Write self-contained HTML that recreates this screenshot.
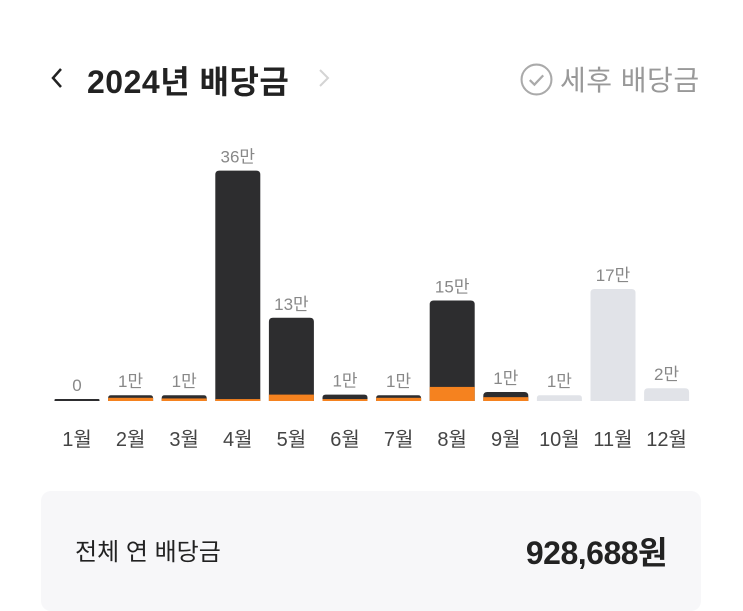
<!DOCTYPE html>
<html><head><meta charset="utf-8"><style>
body{margin:0;width:743px;height:592px;background:#fff;overflow:hidden;font-family:"Liberation Sans","Noto Sans CJK KR",sans-serif;position:relative}
.a{position:absolute}
</style></head><body>
<svg class="a" style="left:48px;top:66px" width="20" height="24"><polyline points="13,3 5,12 13,21" fill="none" stroke="#222" stroke-width="2.5"/></svg>
<div class="a" style="left:87px;top:57px;font-size:32px;font-weight:bold;color:#222;letter-spacing:0.5px">2024년 배당금</div>
<svg class="a" style="left:316px;top:68px" width="16" height="20"><polyline points="4,2 12,10 4,18" fill="none" stroke="#d4d4d4" stroke-width="2"/></svg>
<div class="a" style="left:520px;top:59px;display:flex;align-items:center;color:#999;font-size:28px;letter-spacing:0.5px">
<svg width="33" height="33" viewBox="0 0 32 32" style="margin-right:7px"><circle cx="16" cy="16" r="14.5" fill="none" stroke="#aaa" stroke-width="2"/><path d="M9.5 16.5l4.5 4.5 8.5-9" fill="none" stroke="#aaa" stroke-width="2.2"/></svg>세후 배당금</div>
<svg id="chart" class="a" style="left:0;top:0" width="743" height="460"></svg>
<div class="a" style="left:41px;top:491px;width:660px;height:120px;background:#f7f7f9;border-radius:10px"></div>
<div class="a" style="left:75px;top:532px;font-size:24px;color:#222">전체 연 배당금</div>
<div class="a" style="right:76px;top:528px;font-size:32px;font-weight:bold;color:#222;letter-spacing:-0.5px">928,688원</div>
<script>
const months=["1월","2월","3월","4월","5월","6월","7월","8월","9월","10월","11월","12월"];
const totals=[0.1,0.9,0.9,36,13,1,0.9,15.7,1.4,0.9,17.5,2];
const orangePart=[0,0.5,0.4,0.3,1,0.3,0.5,2.2,0.6,0,0,0];
const labels=["0","1만","1만","36만","13만","1만","1만","15만","1만","1만","17만","2만"];
const future=[false,false,false,false,false,false,false,false,false,true,true,true];
const svg=document.getElementById('chart');const NS='http://www.w3.org/2000/svg';
const base=401,scale=6.4,x0=77,pitch=53.6,bw=45;
const xOf=i=>x0+i*pitch, hOf=v=>Math.max(v*scale,2);
function mk(t,a){const e=document.createElementNS(NS,t);for(const k in a)e.setAttribute(k,a[k]);svg.appendChild(e);return e;}
months.forEach((m,i)=>{
 const h=hOf(totals[i]),x=xOf(i)-bw/2;
 const r=Math.min(4,h/2);
 const b=mk('path',{d:`M${x} ${base}V${base-h+r}Q${x} ${base-h} ${x+r} ${base-h}H${x+bw-r}Q${x+bw} ${base-h} ${x+bw} ${base-h+r}V${base}Z`,fill:future[i]?'#e1e3e8':'#2d2d2f'});
 
 
 if(orangePart[i]>0){const oh=Math.min(orangePart[i]*scale,h);
  const o=mk('rect',{x:x,y:base-oh,width:bw,height:oh,fill:'#f5821f'});
  
  }
 const t=mk('text',{x:xOf(i),y:base-h-8,'text-anchor':'middle','font-size':'17',fill:'#888'});t.textContent=labels[i];
 
 
 const l=mk('text',{x:xOf(i),y:446,'text-anchor':'middle','font-size':'20',fill:'#444'});l.textContent=m;
 
 
});
</script>
</body></html>
